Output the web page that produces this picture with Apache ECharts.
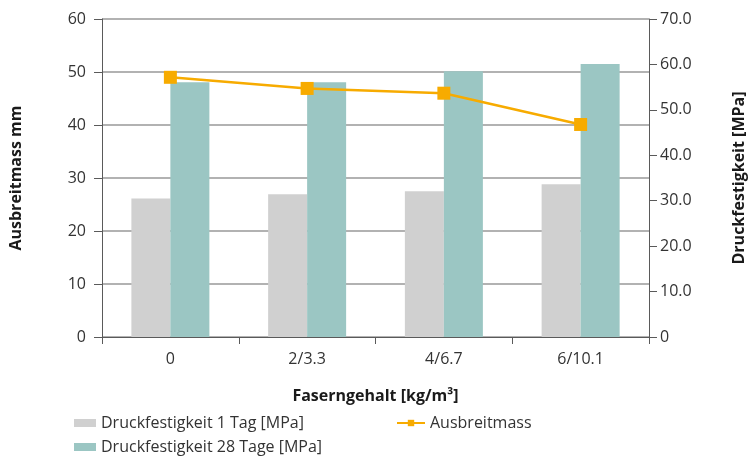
<!DOCTYPE html>
<html>
<head>
<meta charset="utf-8">
<script src="https://cdn.jsdelivr.net/npm/echarts@6/dist/echarts.min.js"></script>
<style>
  html, body { margin: 0; padding: 0; background: #fff; }
  #chart { width: 749px; height: 456px; }
</style>
</head>
<body>
<div id="chart"></div>
<script>
// Fibre content categories
const categories = ['0', '2/3.3', '4/6.7', '6/10.1'];
// Compressive strength after 1 day and after 28 days [MPa]
const strength1Day = [30.5, 31.4, 32.1, 33.6];
const strength28Days = [56.1, 56.1, 58.5, 60.1];
// Slump flow (Ausbreitmass)
const slumpFlow = [49.0, 46.9, 46.0, 40.1];

const FONT = '"Open Sans", sans-serif';
const TEXT = '#333333';
const AXIS = '#5a5a5a';
const FS = 16;

const legendText = { fontFamily: FONT, fontSize: FS, color: TEXT };

const chart = echarts.init(document.getElementById('chart'), null, { renderer: 'canvas' });

chart.setOption({
  animation: false,
  backgroundColor: '#ffffff',
  textStyle: { fontFamily: FONT, color: TEXT },
  grid: { left: 102, right: 100, top: 19, bottom: 119, containLabel: false, outerBoundsMode: 'none' },
  legend: [
    {
      data: ['Druckfestigkeit 1 Tag [MPa]'],
      left: 74, top: 415,
      itemWidth: 22, itemHeight: 8, padding: 0,
      icon: 'rect',
      textStyle: legendText
    },
    {
      data: ['Druckfestigkeit 28 Tage [MPa]'],
      left: 74, top: 439,
      itemWidth: 22, itemHeight: 8, padding: 0,
      icon: 'rect',
      textStyle: legendText
    },
    {
      data: ['Ausbreitmass'],
      left: 396, top: 415,
      itemWidth: 28, itemHeight: 8, padding: 0,
      textStyle: legendText
    }
  ],
  xAxis: {
    type: 'category',
    data: categories,
    name: 'Faserngehalt [kg/m³]',
    nameLocation: 'middle',
    nameGap: 51,
    nameTextStyle: { fontFamily: FONT, fontSize: FS, fontWeight: 'bold', color: '#1a1a1a' },
    axisLine: { lineStyle: { color: AXIS, width: 1 } },
    axisTick: { show: true, length: 7, lineStyle: { color: AXIS } },
    axisLabel: { fontFamily: FONT, fontSize: FS, color: TEXT, margin: 14 }
  },
  yAxis: [
    {
      type: 'value',
      min: 0, max: 60, interval: 10,
      name: 'Ausbreitmass mm',
      nameLocation: 'middle',
      nameRotate: 90,
      nameGap: 78,
      nameTextStyle: { fontFamily: FONT, fontSize: FS, fontWeight: 'bold', color: '#1a1a1a' },
      axisLine: { show: true, lineStyle: { color: AXIS, width: 1 } },
      axisTick: { show: true, length: 8, lineStyle: { color: AXIS } },
      axisLabel: { fontFamily: FONT, fontSize: FS, color: TEXT, margin: 16 },
      splitLine: { show: true, lineStyle: { color: '#999999', width: 1.5 } }
    },
    {
      type: 'value',
      position: 'right',
      min: 0, max: 70, interval: 10,
      name: 'Druckfestigkeit [MPa]',
      nameLocation: 'middle',
      nameRotate: 90,
      nameGap: 82,
      nameTextStyle: { fontFamily: FONT, fontSize: FS, fontWeight: 'bold', color: '#1a1a1a' },
      axisLine: { show: true, lineStyle: { color: AXIS, width: 1 } },
      axisTick: { show: true, length: 8, lineStyle: { color: AXIS } },
      axisLabel: {
        fontFamily: FONT, fontSize: FS, color: TEXT, margin: 11,
        formatter: v => (v === 0 ? '0' : v.toFixed(1))
      },
      splitLine: { show: false }
    }
  ],
  series: [
    {
      name: 'Druckfestigkeit 1 Tag [MPa]',
      type: 'bar',
      yAxisIndex: 1,
      data: strength1Day,
      barWidth: 39,
      barGap: '0%',
      itemStyle: { color: '#d0d0d0' }
    },
    {
      name: 'Druckfestigkeit 28 Tage [MPa]',
      type: 'bar',
      yAxisIndex: 1,
      data: strength28Days,
      barWidth: 39,
      barGap: '0%',
      itemStyle: { color: '#9bc6c3' }
    },
    {
      name: 'Ausbreitmass',
      type: 'line',
      yAxisIndex: 0,
      data: slumpFlow,
      symbol: 'rect',
      symbolSize: 13,
      lineStyle: { color: '#f7ab00', width: 2.5 },
      itemStyle: { color: '#f7ab00' },
      z: 5
    }
  ]
});
</script>
</body>
</html>
